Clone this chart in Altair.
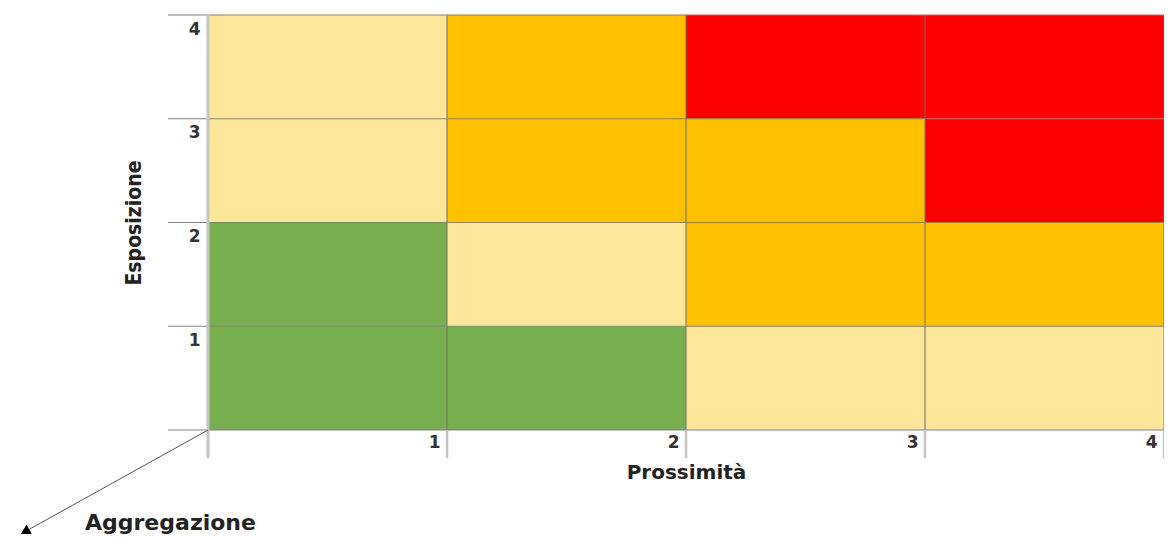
import altair as alt
import pandas as pd

# Data
prossimita = [1, 2, 3, 4]
esposizione = [1, 2, 3, 4]
# risk level per row (esposizione 1..4), per column (prossimita 1..4)
livelli = [
    [1, 1, 2, 2],
    [1, 2, 3, 3],
    [2, 3, 3, 4],
    [2, 3, 4, 4],
]
level_ids = [1, 2, 3, 4]
level_colors = ["#77AF4E", "#FFE699", "#FFC000", "#FF0000"]
boundaries = [0, 1, 2, 3, 4]

W, H = 956, 415

cells = pd.DataFrame([
    {"x0": p - 1, "x1": p, "y0": e - 1, "y1": e, "lvl": livelli[i][j]}
    for i, e in enumerate(esposizione)
    for j, p in enumerate(prossimita)
])
bdf = pd.DataFrame({"b": boundaries})
inner = pd.DataFrame({"b": boundaries[1:]})
left = pd.DataFrame({"b": boundaries[:1]})

xs = alt.Scale(domain=[0, 4], nice=False, zero=False)
ys = alt.Scale(domain=[0, 4], nice=False, zero=False)

rects = alt.Chart(cells).mark_rect(stroke=None).encode(
    x=alt.X("x0:Q", scale=xs, axis=alt.Axis(
        values=prossimita, format="d", title="Prossimità", labelAlign="right",
        labelOffset=-7, labelPadding=4, labelBaseline="top", domain=False,
        ticks=False, grid=False,
        labelFont="DejaVu Sans", labelFontSize=17, labelFontWeight="bold",
        labelColor="#333333",
        titleFont="DejaVu Sans", titleFontSize=20, titleFontWeight="bold",
        titleColor="#222222", titlePadding=12)),
    x2="x1:Q",
    y=alt.Y("y0:Q", scale=ys, axis=alt.Axis(
        values=esposizione, format="d", title="Esposizione", labelAlign="right",
        labelPadding=8, labelBaseline="top", labelOffset=6, domain=False,
        ticks=False, grid=False,
        labelFont="DejaVu Sans", labelFontSize=17, labelFontWeight="bold",
        labelColor="#333333",
        titleFont="DejaVu Sans Condensed", titleFontSize=21, titleFontWeight="bold",
        titleColor="#222222", titlePadding=44)),
    y2="y1:Q",
    color=alt.Color("lvl:O", scale=alt.Scale(domain=level_ids, range=level_colors), legend=None),
)

hlines = alt.Chart(bdf).mark_rule(color="#808080", strokeWidth=1).encode(
    y=alt.Y("b:Q", scale=ys), x=alt.value(-40), x2=alt.value(W)
)
vlines_in = alt.Chart(inner).mark_rule(color="#6f6f6f", strokeWidth=1).encode(
    x=alt.X("b:Q", scale=xs), y=alt.value(0), y2=alt.value(H)
)
vticks = alt.Chart(inner).mark_rule(color="#c4c4c4", strokeWidth=2.5).encode(
    x=alt.X("b:Q", scale=xs), y=alt.value(H + 1), y2=alt.value(H + 28)
)
vleft = alt.Chart(left).mark_rule(color="#c4c4c4", strokeWidth=3).encode(
    x=alt.X("b:Q", scale=xs), y=alt.value(0), y2=alt.value(H + 28)
)

arrow = alt.Chart(left).mark_rule(color="#555555", strokeWidth=1).encode(
    x=alt.X("b:Q", scale=xs), y=alt.value(H), x2=alt.value(-180), y2=alt.value(H + 100)
)
head = alt.Chart(left).mark_point(shape="triangle-up", filled=True, size=130,
                                   color="#000000", angle=241, opacity=1).encode(
    x=alt.value(-183), y=alt.value(H + 102)
)
agg = alt.Chart(pd.DataFrame({"t": ["Aggregazione"]})).mark_text(
    align="left", baseline="middle", font="DejaVu Sans", fontSize=22,
    fontWeight="bold", color="#222222"
).encode(text="t:N", x=alt.value(-123), y=alt.value(H + 93))

chart = alt.layer(rects, vlines_in, hlines, vticks, vleft, arrow, head, agg).properties(
    width=W, height=H,
    autosize=alt.AutoSizeParams(type="none"),
    padding={"left": 200, "top": 7, "right": 0, "bottom": 104},
    background="white",
).configure_view(stroke=None)

chart.save("out.html", embed_options={"renderer": "svg", "actions": False})
